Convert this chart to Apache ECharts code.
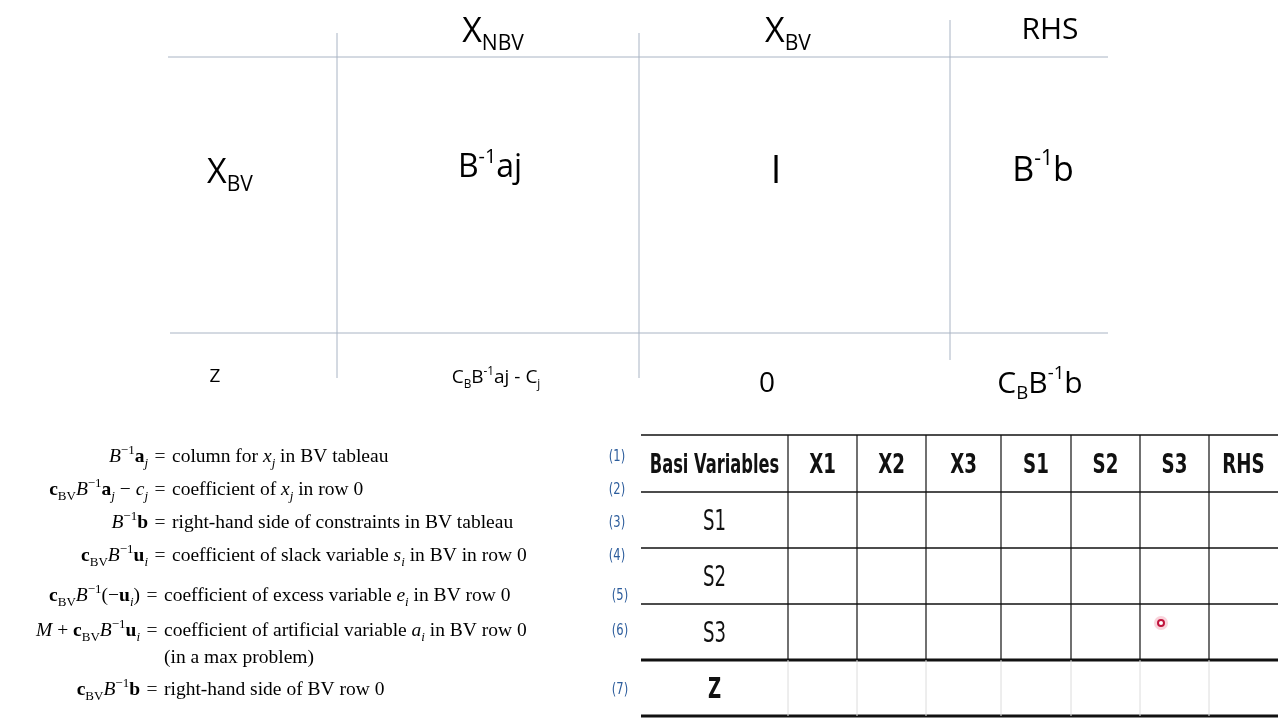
<!DOCTYPE html>
<html lang="en">
<head>
<meta charset="UTF-8">
<title>Revised simplex tableau</title>
<script src="https://cdn.jsdelivr.net/npm/echarts@6/dist/echarts.min.js"></script>
<style>html,body{margin:0;background:#fff}#main{width:1280px;height:720px}</style>
</head>
<body>
<div id="main"></div>
<script>
// top tableau texts: [x, y, rich string, base font size]
let topCells = [
    [493, 32, '{b|X}{sub|NBV}', 34],
    [788, 32, '{b|X}{sub|BV}', 34],
    [1050, 30, '{b|RHS}', 30],
    [230, 173, '{b|X}{sub|BV}', 34],
    [490, 168, '{b|B}{sup|-1}{b|aj}', 32],
    [776, 172, '{b|I}', 38],
    [1043, 171, '{b|B}{sup|-1}{b|b}', 34],
    [215, 377, '{b|Z}', 19],
    [496, 378, '{b|C}{sub|B}{b|B}{sup|-1}{b|aj - C}{sub|j}', 19],
    [767, 384, '{b|0}', 28],
    [1040, 384, '{b|C}{sub|B}{b|B}{sup|-1}{b|b}', 30]
];
// formula list
let formulaLeft = [
    '{i|B}{sup|−1}{bd|a}{sub|j}',
    '{bd|c}{rs|BV}{i|B}{sup|−1}{bd|a}{sub|j}{n| − }{i|c}{sub|j}',
    '{i|B}{sup|−1}{bd|b}',
    '{bd|c}{rs|BV}{i|B}{sup|−1}{bd|u}{sub|i}',
    '{bd|c}{rs|BV}{i|B}{sup|−1}{n|(−}{bd|u}{sub|i}{n|)}',
    '{i|M}{n| + }{bd|c}{rs|BV}{i|B}{sup|−1}{bd|u}{sub|i}',
    '',
    '{bd|c}{rs|BV}{i|B}{sup|−1}{bd|b}'
];
let formulaRight = [
    '{n|column for }{i|x}{sub|j}{n| in BV tableau}',
    '{n|coefficient of }{i|x}{sub|j}{n| in row 0}',
    '{n|right-hand side of constraints in BV tableau}',
    '{n|coefficient of slack variable }{i|s}{sub|i}{n| in BV in row 0}',
    '{n|coefficient of excess variable }{i|e}{sub|i}{n| in BV row 0}',
    '{n|coefficient of artificial variable }{i|a}{sub|i}{n| in BV row 0}',
    '{n|(in a max problem)}',
    '{n|right-hand side of BV row 0}'
];
let formulaY = [457, 490, 523, 556, 596, 631, 658, 690];
let formulaEqX = [160, 160, 160, 160, 152, 152, 152, 152];
let formulaNum = ['(1)', '(2)', '(3)', '(4)', '(5)', '(6)', '', '(7)'];
let formulaNumX = [617, 617, 617, 617, 620, 620, 620, 620];
// bottom table
let colHeaders = ['Basi Variables', 'X1', 'X2', 'X3', 'S1', 'S2', 'S3', 'RHS'];
let rowLabels = ['S1', 'S2', 'S3', 'Z'];
let colEdges = [641, 788, 857, 926, 1001, 1071, 1140, 1209, 1278];
let rowEdges = [435, 492, 548, 604, 660, 716];

let chart = echarts.init(document.getElementById('main'));
let g = [];
function line(x1, y1, x2, y2, color, w) {
    g.push({type: 'line', shape: {x1: x1, y1: y1, x2: x2, y2: y2}, style: {stroke: color, lineWidth: w}});
}
function richSet(fs) {
    return {
        b: {fontSize: fs, fontFamily: 'Open Sans', color: '#111', verticalAlign: 'middle', lineHeight: fs * 1.3},
        sub: {fontSize: fs * 0.62, fontFamily: 'Open Sans', color: '#111', verticalAlign: 'bottom', lineHeight: fs * 1.0},
        sup: {fontSize: fs * 0.62, fontFamily: 'Open Sans', color: '#111', verticalAlign: 'top', lineHeight: fs * 1.3}
    };
}
let tc = '#a9b4c4';
line(168, 57, 1108, 57, tc, 1);
line(170, 333, 1108, 333, tc, 1);
line(337, 33, 337, 378, tc, 1);
line(639, 33, 639, 378, tc, 1);
line(950, 20, 950, 360, tc, 1);
topCells.forEach(function (c) {
    g.push({type: 'text', x: c[0], y: c[1], style: {text: c[2], rich: richSet(c[3]), align: 'center', verticalAlign: 'middle'}});
});

let fs = 19.5;
let fr = {
    n: {fontSize: fs, fontFamily: 'Liberation Serif', color: '#222', verticalAlign: 'middle', lineHeight: 26},
    i: {fontSize: fs, fontFamily: 'Liberation Serif', fontStyle: 'italic', color: '#222', verticalAlign: 'middle', lineHeight: 26},
    bd: {fontSize: fs, fontFamily: 'Liberation Serif', fontWeight: 'bold', color: '#222', verticalAlign: 'middle', lineHeight: 26},
    sub: {fontSize: 13, fontFamily: 'Liberation Serif', fontStyle: 'italic', color: '#222', verticalAlign: 'bottom', lineHeight: 22},
    rs: {fontSize: 13, fontFamily: 'Liberation Serif', color: '#222', verticalAlign: 'bottom', lineHeight: 22},
    sup: {fontSize: 13, fontFamily: 'Liberation Serif', color: '#222', verticalAlign: 'top', lineHeight: 26}
};
formulaY.forEach(function (y, k) {
    let ex = formulaEqX[k];
    if (formulaLeft[k]) {
        g.push({type: 'text', x: ex - 12, y: y, style: {text: formulaLeft[k], rich: fr, align: 'right', verticalAlign: 'middle'}});
        g.push({type: 'text', x: ex, y: y, style: {text: '=', fontSize: fs, fontFamily: 'Liberation Serif', fill: '#222', align: 'center', verticalAlign: 'middle'}});
    }
    g.push({type: 'text', x: ex + 12, y: y, style: {text: formulaRight[k], rich: fr, align: 'left', verticalAlign: 'middle'}});
    if (formulaNum[k]) {
        g.push({type: 'text', x: formulaNumX[k], y: y, style: {text: formulaNum[k], fontSize: 16, fontFamily: 'DejaVu Sans Condensed', fill: '#2d5d9c', align: 'center', verticalAlign: 'middle'},
            scaleX: 0.8, originX: 0});
    }
});

// bottom table grid
for (let r = 0; r < rowEdges.length; r++) {
    let w = (r === 4 || r === 5) ? 3 : 1.5;
    line(colEdges[0], rowEdges[r], colEdges[colEdges.length - 1], rowEdges[r], '#111', w);
}
for (let c = 1; c < colEdges.length - 1; c++) {
    line(colEdges[c], rowEdges[0], colEdges[c], rowEdges[4], '#111', 1.2);
    line(colEdges[c], rowEdges[4], colEdges[c], rowEdges[5], '#dcdcdc', 1);
}
colHeaders.forEach(function (h, c) {
    g.push({type: 'text', x: (colEdges[c] + colEdges[c + 1]) / 2, y: (rowEdges[0] + rowEdges[1]) / 2 + 2,
        style: {text: h, fontSize: c === 0 ? 27 : 27, fontFamily: 'DejaVu Sans Condensed', fontWeight: 'bold', fill: '#111', align: 'center', verticalAlign: 'middle'},
        scaleX: c === 0 ? 0.67 : 0.75, originX: 0});
});
rowLabels.forEach(function (lab, r) {
    let cx = (colEdges[0] + colEdges[1]) / 2;
    g.push({type: 'text', x: cx, y: (rowEdges[r + 1] + rowEdges[r + 2]) / 2 + 3,
        style: {text: lab, fontSize: 28, fontFamily: 'DejaVu Sans Condensed', fontWeight: lab === 'Z' ? 'bold' : 'normal', fill: '#111', align: 'center', verticalAlign: 'middle'},
        scaleX: 0.72, originX: 0});
});
// cursor marker
g.push({type: 'circle', shape: {cx: 1161, cy: 623, r: 7}, style: {fill: 'rgba(230,80,110,0.25)'}});
g.push({type: 'circle', shape: {cx: 1161, cy: 623, r: 3}, style: {fill: '#fff', stroke: '#c0143c', lineWidth: 2}});

chart.setOption({backgroundColor: '#fff', animation: false, graphic: g});
</script>
</body>
</html>
